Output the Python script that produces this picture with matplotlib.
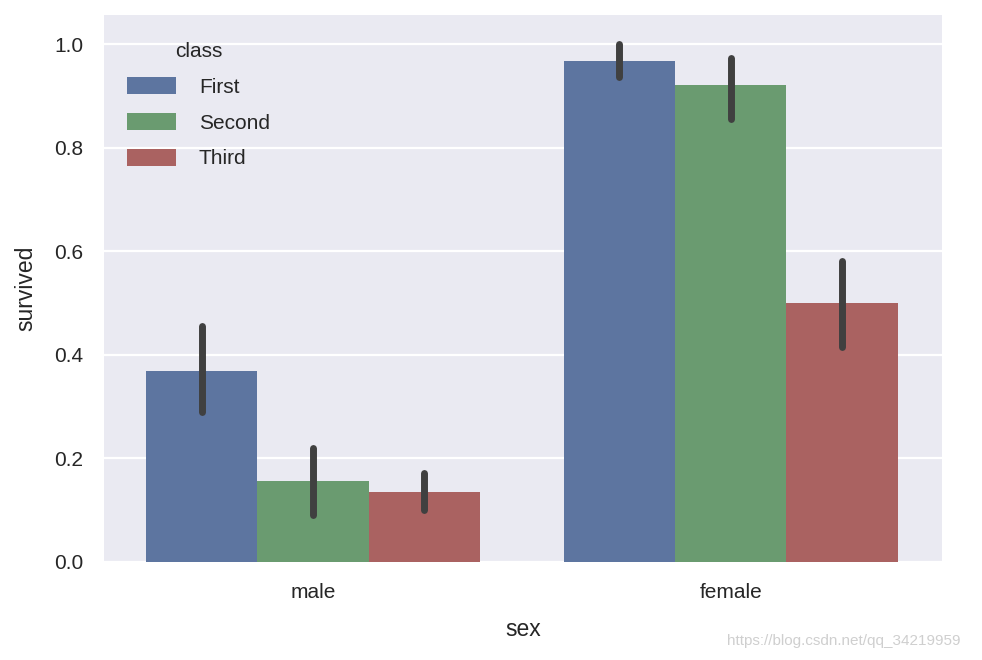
import matplotlib
matplotlib.use("Agg")
import matplotlib.pyplot as plt
import numpy as np

sexes = ["male", "female"]
classes = ["First", "Second", "Third"]
survived = {
    "First": [0.369, 0.968],
    "Second": [0.157, 0.921],
    "Third": [0.135, 0.500],
}
ci_low = {
    "First": [0.290, 0.937],
    "Second": [0.090, 0.855],
    "Third": [0.100, 0.415],
}
ci_high = {
    "First": [0.456, 1.000],
    "Second": [0.220, 0.974],
    "Third": [0.172, 0.581],
}
colors = ["#5D75A0", "#6A9B70", "#AA6261"]

plt.rcParams["font.family"] = ["Liberation Sans", "DejaVu Sans"]

fig = plt.figure(figsize=(9.82, 6.6), dpi=100)
ax = fig.add_axes([0.106, 0.1485, 0.853, 0.8285])
ax.set_facecolor("#EAEAF2")
for s in ax.spines.values():
    s.set_visible(False)
ax.yaxis.grid(True, color="white", linewidth=1.6)
ax.set_axisbelow(True)

x = np.arange(len(sexes))
w = 0.8 / 3
for i, c in enumerate(classes):
    xs = x - 0.4 + w * (i + 0.5)
    ax.bar(xs, survived[c], width=w, color=colors[i], label=c, zorder=2)
    for xi, lo, hi in zip(xs, ci_low[c], ci_high[c]):
        ax.plot([xi, xi], [lo, hi], color="#404040", linewidth=5.0,
                solid_capstyle="round", zorder=3)

ax.set_xlim(-0.5, 1.505)
ax.set_ylim(0, 1.056)
ax.set_xticks(x)
ax.set_xticklabels(sexes)
ax.set_yticks([0.0, 0.2, 0.4, 0.6, 0.8, 1.0])
ax.set_yticklabels(["0.0", "0.2", "0.4", "0.6", "0.8", "1.0"])
ax.tick_params(axis="both", length=0, labelsize=15, colors="#262626")
ax.tick_params(axis="x", pad=15)
ax.tick_params(axis="y", pad=15)
ax.set_xlabel("sex", fontsize=16.5, color="#262626", labelpad=12)
ax.set_ylabel("survived", fontsize=16.5, color="#262626", labelpad=12)

leg = ax.legend(title="class", loc="upper left", frameon=False, fontsize=15,
                title_fontsize=15, handlelength=2.35, handleheight=0.85,
                labelspacing=0.78, handletextpad=1.1,
                bbox_to_anchor=(0.005, 0.985))
for t in leg.get_texts():
    t.set_color("#262626")
leg.get_title().set_color("#262626")

fig.text(0.978, 0.018, "https://blog.csdn.net/qq_34219959", ha="right",
         va="bottom", fontsize=11, color="#CFCFCF")

fig.savefig("out.png", dpi=100)
